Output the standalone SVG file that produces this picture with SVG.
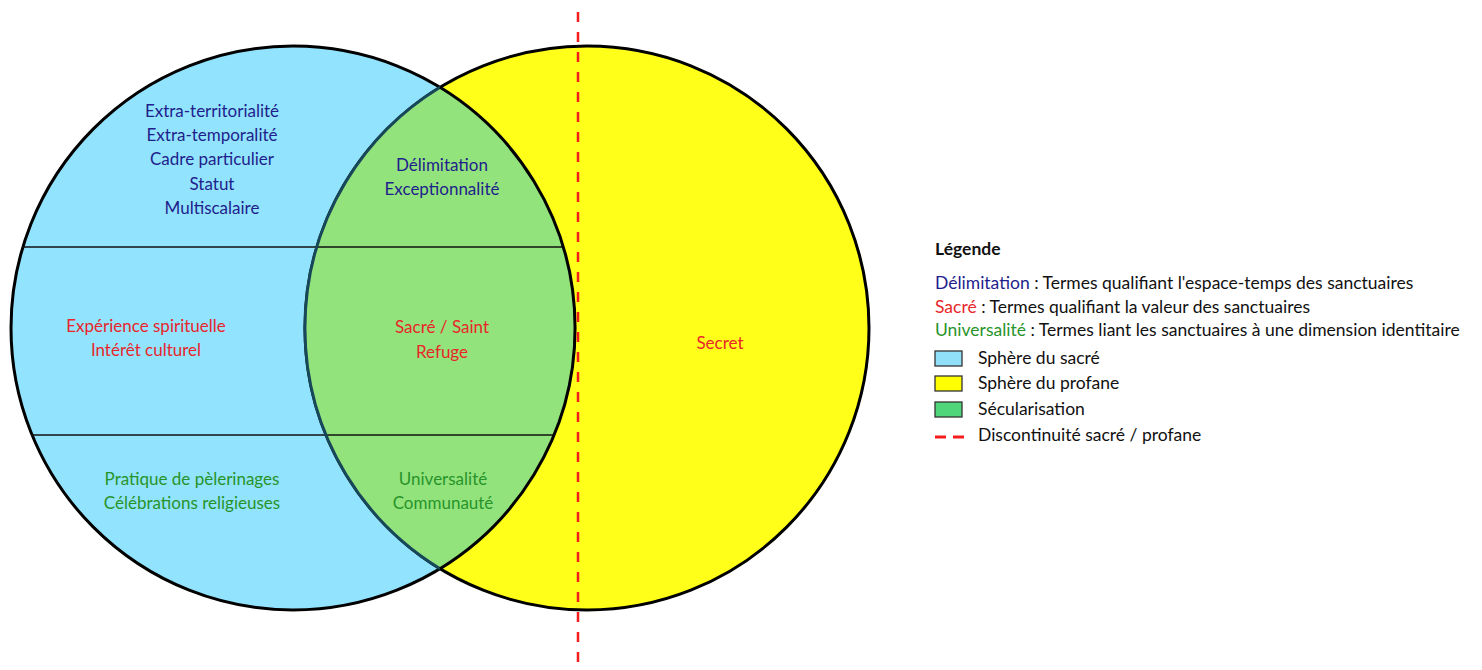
<svg xmlns="http://www.w3.org/2000/svg" width="1482" height="670" viewBox="0 0 1482 670">
<style>
text{font-family:Lato,"Open Sans","Liberation Sans",sans-serif;font-size:17px;text-anchor:middle;dominant-baseline:central}
.b{fill:#1e1e8c}.r{fill:#e8262b}.g{fill:#27942a}.k{fill:#111}
.lg{text-anchor:start;font-size:17.5px}
.circ{stroke:#000;stroke-width:3}
</style>
<rect width="1482" height="670" fill="#fff"/>
<g id="sphere-sacre">
<circle class="circ" cx="293" cy="328" r="282" fill="#92e3fd"/>
</g>
<g id="sphere-profane">
<circle class="circ" cx="587" cy="328" r="282" fill="#ffff1a"/>
</g>
<g id="secularisation">
<path d="M440 87.3 A282 282 0 0 1 440 568.7 A282 282 0 0 1 440 87.3 Z" fill="#93e37c"/>
</g>
<g id="connectors">
<line x1="22" y1="247" x2="564" y2="247" stroke="#111" stroke-width="1.5"/>
<line x1="31" y1="435" x2="555" y2="435" stroke="#111" stroke-width="1.5"/>
<path d="M440 568.7 A282 282 0 0 1 440 87.3" fill="none" stroke="#17485a" stroke-width="3"/>
<path d="M440 87.3 A282 282 0 0 1 440 568.7" fill="none" stroke="#000" stroke-width="3"/>
<line x1="578" y1="12" x2="578" y2="670" stroke="#f51c1c" stroke-width="2.5" stroke-dasharray="10 10"/>
</g>
<g id="texts-left-top" class="b">
<text x="212" y="110">Extra-territorialité</text>
<text x="212" y="134">Extra-temporalité</text>
<text x="212" y="158">Cadre particulier</text>
<text x="212" y="183">Statut</text>
<text x="212" y="207">Multiscalaire</text>
</g>
<g id="texts-mid-top" class="b">
<text x="442" y="164">Délimitation</text>
<text x="442" y="188">Exceptionnalité</text>
</g>
<g id="texts-left-mid" class="r">
<text x="146" y="325">Expérience spirituelle</text>
<text x="146" y="349">Intérêt culturel</text>
</g>
<g id="texts-mid-mid" class="r">
<text x="442" y="326">Sacré / Saint</text>
<text x="442" y="351">Refuge</text>
</g>
<g id="texts-left-bot" class="g">
<text x="192" y="478">Pratique de pèlerinages</text>
<text x="192" y="502">Célébrations religieuses</text>
</g>
<g id="texts-mid-bot" class="g">
<text x="443" y="478">Universalité</text>
<text x="443" y="502">Communauté</text>
</g>
<g id="text-secret">
<text class="r" x="720" y="342">Secret</text>
</g>
<g id="legende">
<text class="lg k" x="935" y="248" font-weight="bold">Légende</text>
<text class="lg k" x="935" y="282"><tspan class="b">Délimitation</tspan> : Termes qualifiant l'espace-temps des sanctuaires</text>
<text class="lg k" x="935" y="306"><tspan class="r">Sacré</tspan> : Termes qualifiant la valeur des sanctuaires</text>
<text class="lg k" x="935" y="329"><tspan class="g">Universalité</tspan> : Termes liant les sanctuaires à une dimension identitaire</text>
<rect x="935" y="351" width="27" height="15" fill="#90e0fa" stroke="#333" stroke-width="1.3"/>
<text class="lg k" x="978" y="357">Sphère du sacré</text>
<rect x="935" y="376" width="27" height="15" fill="#ffff00" stroke="#333" stroke-width="1.3"/>
<text class="lg k" x="978" y="382">Sphère du profane</text>
<rect x="935" y="402" width="27" height="15" fill="#4fd67a" stroke="#333" stroke-width="1.3"/>
<text class="lg k" x="978" y="408">Sécularisation</text>
<line x1="935" y1="437" x2="946" y2="437" stroke="#f51c1c" stroke-width="3"/>
<line x1="953" y1="437" x2="964" y2="437" stroke="#f51c1c" stroke-width="3"/>
<text class="lg k" x="978" y="434">Discontinuité sacré / profane</text>
</g>
</svg>
